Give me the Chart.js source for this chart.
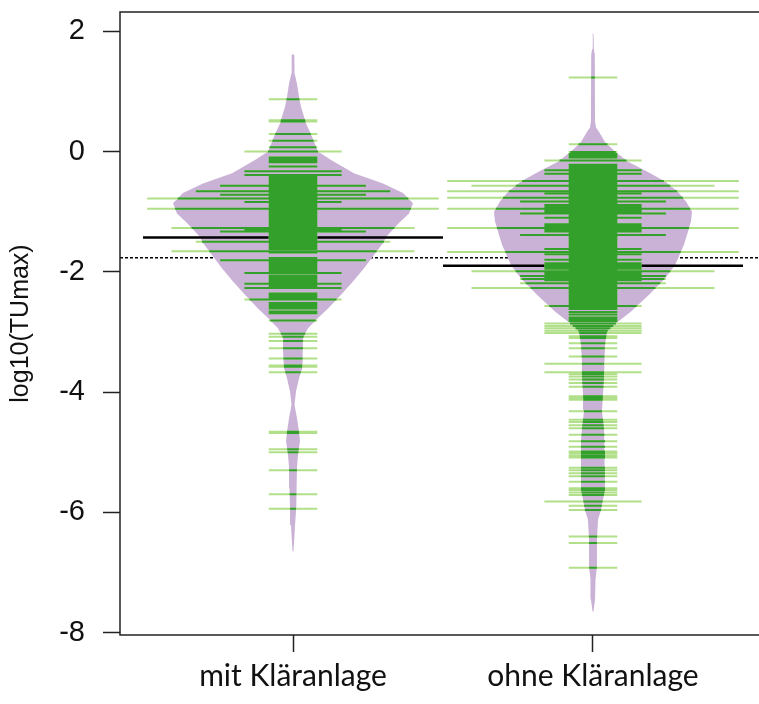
<!DOCTYPE html>
<html>
<head>
<meta charset="utf-8">
<script src="https://cdn.jsdelivr.net/npm/chart.js@4/dist/chart.umd.min.js"></script>
<style>
  html, body { margin: 0; padding: 0; overflow: hidden; background: #fff; }
  canvas { display: block; }
</style>
</head>
<body>
<canvas id="chart" width="770" height="704" style="width:770px;height:704px"></canvas>
<script>
// Kategorien und Achsen
const kategorien = ['mit Kläranlage', 'ohne Kläranlage'];
const yTicks = [2, 0, -2, -4, -6, -8];

// Dichtekurven (Bohnenform), y = log10(TUmax), d = relative Dichte
const mitKurveY = [1.62, 1.60, 1.30, 1.13, 0.91, 0.74, 0.58, 0.47, 0.25, 0.00, -0.14, -0.36, -0.53, -0.69, -0.86, -1.03,
  -1.19, -1.42, -1.50, -1.72, -1.94, -2.16, -2.38, -2.61, -2.77, -2.94, -3.10, -3.33, -3.60, -3.77, -3.99, -4.21,
  -4.43, -4.66, -4.82, -5.04, -5.26, -5.60, -5.93, -6.21, -6.65];
const mitKurveD = [0, 0.011, 0.013, 0.033, 0.05, 0.067, 0.092, 0.108, 0.158, 0.208, 0.317, 0.508, 0.75, 0.917, 1.0, 0.967,
  0.883, 0.775, 0.758, 0.675, 0.592, 0.5, 0.4, 0.292, 0.208, 0.125, 0.083, 0.083, 0.075, 0.05, 0.025, 0.0125,
  0.033, 0.05, 0.058, 0.042, 0.033, 0.029, 0.025, 0.017, 0.004];

const ohneKurveY = [1.97, 1.95, 1.70, 1.60, 0.50, 0.40, 0.33, 0.16, 0.00, -0.17, -0.34, -0.50, -0.67, -0.83, -1.00, -1.16,
  -1.33, -1.55, -1.89, -2.11, -2.38, -2.66, -2.83, -2.99, -3.22, -3.49, -3.77, -4.05, -4.32, -4.60, -4.82, -5.07,
  -5.35, -5.63, -5.79, -5.96, -6.12, -6.46, -6.90, -7.12, -7.45, -7.65];
const ohneKurveD = [0, 0.004, 0.008, 0.015, 0.017, 0.025, 0.05, 0.1, 0.183, 0.292, 0.458, 0.6, 0.708, 0.775, 0.825, 0.817,
  0.792, 0.758, 0.683, 0.6, 0.467, 0.317, 0.208, 0.117, 0.1, 0.092, 0.092, 0.083, 0.075, 0.092, 0.1, 0.1,
  0.1, 0.1, 0.083, 0.067, 0.042, 0.033, 0.033, 0.021, 0.017, 0.004];

// Einzelwerte (je eine Beobachtung)
const mitEinzel = [0.87, 0.52, 0.50, 0.29, 0.18, 0.07, -0.10, -0.12, -0.14, -0.16, -0.18, -0.25,
  -0.42, -0.45, -0.48, -0.51, -0.54, -0.57, -0.60, -0.63, -0.66, -0.69, -0.72, -0.75, -0.78, -0.81, -0.84,
  -0.87, -0.90, -0.93, -0.96, -0.99, -1.02, -1.05, -1.08, -1.11, -1.14, -1.17, -1.20, -1.23, -1.26, -1.29,
  -1.32, -1.35, -1.38, -1.41, -1.44, -1.47, -1.50, -1.53, -1.56, -1.59, -1.62, -1.68,
  -1.77, -1.80, -1.83, -1.86, -1.89, -1.92, -1.95, -1.98, -2.01, -2.06, -2.09, -2.12, -2.15, -2.18, -2.21,
  -2.24, -2.27, -2.36, -2.39, -2.42, -2.45, -2.52, -2.55, -2.58, -2.61, -2.66, -2.69, -2.81,
  -3.03, -3.08, -3.15, -3.27, -3.44, -3.56, -3.58, -3.67, -4.66, -4.68, -4.95, -5.00, -5.30, -5.70, -5.94];
// Mehrfachwerte [Wert, Anzahl]
const mitMehrfach = [[0.00, 2], [-0.33, 2], [-0.39, 2], [-0.57, 3], [-0.66, 4], [-0.72, 3], [-0.78, 6], [-0.84, 2],
  [-0.95, 6], [-1.27, 5], [-1.30, 2], [-1.33, 3], [-1.50, 4], [-1.66, 5], [-1.81, 3], [-2.02, 2], [-2.20, 2],
  [-2.27, 2], [-2.46, 2]];

const ohneEinzel = [1.23, 0.12, -0.01, -0.04, -0.07, -0.10,
  -0.22, -0.25, -0.28, -0.31, -0.34, -0.37, -0.40, -0.43, -0.46, -0.49, -0.52, -0.55, -0.58, -0.61, -0.64,
  -0.67, -0.70, -0.73, -0.76, -0.79, -0.82, -0.85, -0.88, -0.91, -0.94, -0.97, -1.00, -1.03, -1.06, -1.09,
  -1.12, -1.15, -1.18, -1.21, -1.24, -1.27, -1.30, -1.33, -1.36, -1.39, -1.42, -1.45, -1.48, -1.51, -1.54,
  -1.57, -1.60, -1.63, -1.66, -1.69, -1.72, -1.75, -1.78, -1.81, -1.84, -1.87, -1.90, -1.93, -1.96, -1.99,
  -2.02, -2.05, -2.08, -2.11, -2.14, -2.17, -2.20, -2.23, -2.26, -2.29, -2.32, -2.35, -2.38, -2.41, -2.44,
  -2.47, -2.50, -2.53, -2.56, -2.59, -2.62, -2.67, -2.71, -2.76, -2.79, -2.82, -3.07, -3.10, -3.19, -3.27,
  -3.41, -3.70, -3.74, -3.79, -3.85, -3.91, -4.07, -4.10, -4.13, -4.32, -4.46, -4.50, -4.55, -4.60, -4.71,
  -4.82, -4.91, -4.99, -5.02, -5.06, -5.09, -5.26, -5.30, -5.35, -5.40, -5.49, -5.60, -5.63, -5.67, -5.71,
  -5.89, -5.96, -6.40, -6.51, -6.92];
const ohneMehrfach = [[-0.15, 2], [-0.31, 2], [-0.37, 2], [-0.49, 6], [-0.57, 5], [-0.66, 6], [-0.70, 2], [-0.77, 6],
  [-0.83, 3], [-0.89, 2], [-0.92, 2], [-0.95, 6], [-0.98, 2], [-1.01, 2], [-1.03, 3], [-1.10, 2], [-1.21, 2],
  [-1.24, 2], [-1.27, 6], [-1.30, 2], [-1.33, 2], [-1.39, 3], [-1.62, 2], [-1.67, 6], [-1.71, 2], [-1.80, 2],
  [-1.86, 2], [-1.89, 2], [-1.92, 2], [-1.95, 2], [-1.99, 5], [-2.02, 2], [-2.05, 2], [-2.07, 3], [-2.10, 2],
  [-2.12, 3], [-2.14, 2], [-2.19, 3], [-2.27, 5], [-2.57, 2], [-2.86, 2], [-2.90, 2], [-2.94, 2], [-2.98, 2],
  [-3.02, 2], [-3.53, 2], [-3.67, 2], [-5.82, 2]];

// Mittelwerte je Bohne und gesamt
const mittelwerte = [-1.43, -1.90];
const gesamtMittel = -1.765;

const xMin = 0.4233, xMax = 2.5767;
const beanBreite = 0.4;     // halbe Breite bei Dichte 1 (x-Einheiten)
const strichProObs = 0.081; // halbe Strichlänge je Beobachtung
const lila = '#cab2d6', gruenInnen = '#33a02c', gruenAussen = '#b2df8a';

const gruppen = [
  { ky: mitKurveY, kd: mitKurveD, einzel: mitEinzel, mehrfach: mitMehrfach },
  { ky: ohneKurveY, kd: ohneKurveD, einzel: ohneEinzel, mehrfach: ohneMehrfach }
];

// Dichte an Stelle v (lineare Interpolation zwischen den Kurvenpunkten)
function dichteBei(ys, ds, v) {
  for (let i = 0; i < ys.length - 1; i++) {
    if (v <= ys[i] && v >= ys[i + 1]) {
      const t = (ys[i] - v) / (ys[i] - ys[i + 1]);
      return ds[i] + t * (ds[i + 1] - ds[i]);
    }
  }
  return 0;
}

const luecke = { x: NaN, y: NaN };
const datasets = [];

datasets.push({
  label: 'Gesamtmittel',
  data: [{ x: xMin, y: gesamtMittel }, { x: xMax, y: gesamtMittel }],
  borderColor: '#000', borderWidth: 1.5, borderDash: [3, 2], order: 6
});

gruppen.forEach((g, i) => {
  const c = i + 1;
  const rechts = g.ky.map((y, k) => ({ x: c + g.kd[k] * beanBreite, y }));
  const links = g.ky.map((y, k) => ({ x: c - g.kd[k] * beanBreite, y })).reverse();
  datasets.push({
    label: kategorien[i],
    data: rechts.concat(links),
    borderWidth: 0, borderColor: lila, backgroundColor: lila, fill: 'shape', order: 5
  });

  datasets.push({
    label: kategorien[i] + ' Mittel',
    data: [{ x: c - 0.5, y: mittelwerte[i] }, { x: c + 0.5, y: mittelwerte[i] }],
    borderColor: '#000', borderWidth: 2.5, order: 4
  });

  const beob = g.einzel.map(v => [v, 1]).concat(g.mehrfach);
  const hell = [], dunkel = [];
  beob.forEach(([v, n]) => {
    const L = n * strichProObs;
    const innen = Math.min(L, dichteBei(g.ky, g.kd, v) * beanBreite);
    hell.push({ x: c - L, y: v }, { x: c + L, y: v }, luecke);
    if (innen > 0) dunkel.push({ x: c - innen, y: v }, { x: c + innen, y: v }, luecke);
  });
  datasets.push({ label: 'aussen', data: hell, borderColor: gruenAussen, borderWidth: 2, order: 3 });
  datasets.push({ label: 'innen', data: dunkel, borderColor: gruenInnen, borderWidth: 2, order: 2 });
});

datasets.forEach(d => {
  d.showLine = true;
  d.pointRadius = 0;
  d.pointHoverRadius = 0;
  d.borderCapStyle = 'butt';
  d.spanGaps = false;
  if (!d.fill) d.fill = false;
});

// Rahmen um die Zeichenfläche
const rahmen = {
  id: 'rahmen',
  afterDatasetsDraw(chart) {
    const a = chart.chartArea, ctx = chart.ctx;
    ctx.save();
    ctx.strokeStyle = '#222';
    ctx.lineWidth = 1.5;
    ctx.strokeRect(a.left, a.top, a.right - a.left, a.bottom - a.top);
    ctx.restore();
  }
};

new Chart(document.getElementById('chart'), {
  type: 'scatter',
  data: { datasets },
  options: {
    responsive: false,
    animation: false,
    events: [],
    layout: { padding: { top: 12, right: 4, left: 0, bottom: 0 } },
    plugins: { legend: { display: false }, tooltip: { enabled: false } },
    scales: {
      x: {
        type: 'linear', min: xMin, max: xMax,
        afterBuildTicks: s => { s.ticks = [1, 2].map(v => ({ value: v })); },
        afterFit: s => { s.height = 69; s.paddingLeft = 0; s.paddingRight = 0; },
        grid: { drawOnChartArea: false, drawTicks: true, tickLength: 17, tickColor: '#222', tickWidth: 1.5 },
        border: { display: false },
        ticks: {
          callback: v => kategorien[v - 1], color: '#111', padding: 6,
          font: { family: 'Lato', size: 30 }, maxRotation: 0, autoSkip: false
        }
      },
      y: {
        type: 'linear', min: -8.04, max: 2.32,
        afterBuildTicks: s => { s.ticks = yTicks.map(v => ({ value: v })); },
        afterFit: s => { s.width = 120; s.paddingTop = 0; s.paddingBottom = 0; },
        grid: { drawOnChartArea: false, drawTicks: true, tickLength: 17, tickColor: '#222', tickWidth: 1.5 },
        border: { display: false },
        ticks: {
          color: '#111', padding: 18,
          font: { family: 'Liberation Sans', size: 29 }
        },
        title: {
          display: true, text: 'log10(TUmax)', color: '#111',
          font: { family: 'Liberation Sans', size: 25 }, padding: { top: 6, bottom: 0 }
        }
      }
    }
  },
  plugins: [rahmen]
});
</script>
</body>
</html>
